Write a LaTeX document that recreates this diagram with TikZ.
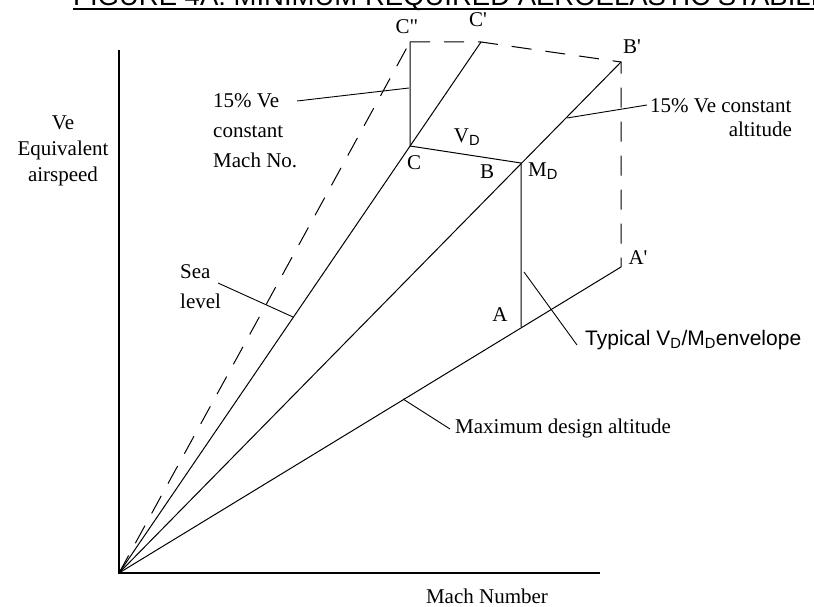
\documentclass[tikz,border=0pt]{standalone}
\usepackage{fontspec}
\setmainfont{Liberation Serif}
\newfontfamily\arialfont{Liberation Sans}
\usepackage{tikz}
\usetikzlibrary{calc}

\tikzset{
  lbl/.style={font=\fontsize{21}{30}\selectfont, inner sep=0pt},
  sanslbl/.style={font=\arialfont\fontsize{21}{25}\selectfont, inner sep=0pt},
  ray/.style={line width=1pt},
  dashray/.style={line width=1pt, dash pattern=on 20pt off 14pt},
  leader/.style={line width=0.9pt},
}
\newcommand{\pr}{\textquotesingle}

\begin{document}
\begin{tikzpicture}[x=1pt,y=-1pt]
  \useasboundingbox (0,0) rectangle (814,607);
  \clip (0,0) rectangle (814,607);
  % Title, cut at the top of the page
  \node[anchor=base west, font=\arialfont\fontsize{27.5}{30}\selectfont, inner sep=0pt] (title) at (73,6) {FIGURE 4A: MINIMUM REQUIRED AEROELASTIC STABILITY};
  \draw[line width=1.5pt] ($(title.base west)+(0,3)$) -- ($(title.base east)+(0,3)$);

  % Axes
  \coordinate (O) at (119,573);
  \coordinate (ytop) at (119,50);
  \coordinate (xend) at (600,573);
  \draw[line width=1.5pt] (ytop) -- (O) -- (xend);

  % Envelope corners
  \coordinate (Cpp) at (410,42);
  \coordinate (Cp) at (481,42);
  \coordinate (Bp) at (621,62);
  \coordinate (Ap) at (621,267);
  \coordinate (C) at (410,146);
  \coordinate (MD) at (521,163);
  \coordinate (A) at (521,327);

  % Rays from the origin
  \draw[ray] (O) -- (Ap);
  \draw[ray] (O) -- (Bp);
  \draw[ray] (O) -- (Cp);
  \draw[dashray] (O) -- (Cpp);
  \draw[ray] (A) -- (MD) -- (C) -- (Cpp);
  \draw[dashray] (Cpp) -- (Cp) -- (Bp) -- (Ap);

  % Point labels
  \node[lbl] (lCpp) at (407,27) {C\textquotedbl};
  \node[lbl] (lCp) at (478,20) {C\pr};
  \node[lbl] (lBp) at (632,47) {B\pr};
  \node[lbl] (lAp) at (638,258) {A\pr};
  \node[lbl] (lC) at (414,163) {C};
  \node[lbl] (lB) at (487,172) {B};
  \node[lbl] (lA) at (500,315) {A};
  \node[lbl] (lVD) at (467,137) {V\textsubscript{\arialfont D}};
  \node[lbl] (lMD) at (543,171) {M\textsubscript{\arialfont D}};

  % Axis labels
  \node[lbl, font=\fontsize{21}{26}\selectfont, align=center] (yname) at (63,151) {Ve\\Equivalent\\airspeed};
  \node[lbl] (xname) at (487,596) {Mach Number};

  % Notes and leaders
  \node[lbl, anchor=west, align=left] (machnote) at (213,131) {15\% Ve\\constant\\Mach No.};
  \coordinate (m1) at (297,101);
  \coordinate (m2) at (409,88);
  \draw[leader] (m1) -- (m2);

  \node[lbl, anchor=west, align=left] (sea) at (180,287) {Sea\\level};
  \coordinate (s1) at (218,283);
  \coordinate (s2) at (293,317);
  \draw[leader] (s1) -- (s2);

  \node[lbl, anchor=west] (altnote) at (650,106) {15\% Ve constant};
  \node[lbl, anchor=east] (altnote2) at (792,129) {altitude};
  \coordinate (a1) at (567,118);
  \coordinate (a2) at (647,105);
  \draw[leader] (a1) -- (a2);

  \node[sanslbl, anchor=west] (typ) at (585,340) {Typical V\textsubscript{D}/M\textsubscript{D}envelope};
  \coordinate (t1) at (524,272);
  \coordinate (t2) at (577,345);
  \draw[leader] (t1) -- (t2);

  \node[lbl, anchor=west] (maxalt) at (455,428) {Maximum design altitude};
  \coordinate (x1) at (403,399);
  \coordinate (x2) at (450,429);
  \draw[leader] (x1) -- (x2);
\end{tikzpicture}
\end{document}
